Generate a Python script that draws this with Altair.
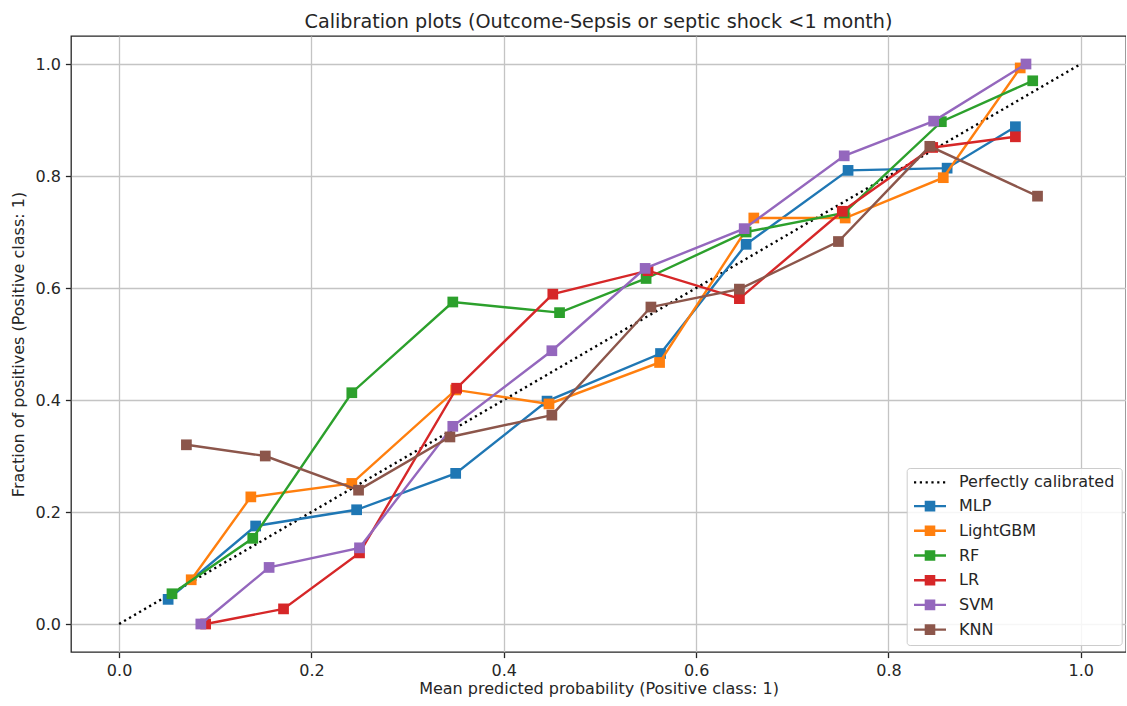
import altair as alt
import pandas as pd

# ---- data ----
names = ["Perfectly calibrated", "MLP", "LightGBM", "RF", "LR", "SVM", "KNN"]
colors = ["#000000", "#1f77b4", "#ff7f0e", "#2ca02c", "#d62728", "#9467bd", "#8c564b"]

x_perfect = [0.0, 1.0]
y_perfect = [0.0, 1.0]

x_mlp = [0.051, 0.142, 0.247, 0.350, 0.445, 0.563, 0.652, 0.758, 0.861, 0.932]
y_mlp = [0.044, 0.175, 0.204, 0.269, 0.398, 0.483, 0.678, 0.810, 0.814, 0.888]

x_lgbm = [0.075, 0.137, 0.242, 0.350, 0.447, 0.562, 0.660, 0.755, 0.857, 0.937]
y_lgbm = [0.079, 0.227, 0.251, 0.418, 0.393, 0.467, 0.725, 0.725, 0.797, 0.993]

x_rf = [0.055, 0.139, 0.242, 0.347, 0.458, 0.548, 0.652, 0.754, 0.855, 0.950]
y_rf = [0.054, 0.153, 0.413, 0.575, 0.556, 0.617, 0.700, 0.734, 0.897, 0.970]

x_lr = [0.090, 0.171, 0.250, 0.351, 0.451, 0.550, 0.645, 0.752, 0.846, 0.932]
y_lr = [0.000, 0.027, 0.127, 0.421, 0.589, 0.631, 0.581, 0.737, 0.851, 0.870]

x_svm = [0.085, 0.156, 0.250, 0.347, 0.450, 0.547, 0.650, 0.754, 0.847, 0.943]
y_svm = [0.000, 0.101, 0.136, 0.353, 0.488, 0.635, 0.706, 0.836, 0.898, 1.000]

x_knn = [0.070, 0.152, 0.249, 0.344, 0.450, 0.553, 0.645, 0.748, 0.843, 0.955]
y_knn = [0.320, 0.300, 0.239, 0.334, 0.373, 0.566, 0.598, 0.683, 0.853, 0.764]

tick_values = [0.0, 0.2, 0.4, 0.6, 0.8, 1.0]

series_xy = {
    "Perfectly calibrated": (x_perfect, y_perfect),
    "MLP": (x_mlp, y_mlp),
    "LightGBM": (x_lgbm, y_lgbm),
    "RF": (x_rf, y_rf),
    "LR": (x_lr, y_lr),
    "SVM": (x_svm, y_svm),
    "KNN": (x_knn, y_knn),
}

rows = []
for name, (xs, ys) in series_xy.items():
    for xv, yv in zip(xs, ys):
        rows.append({"series": name, "x": xv, "y": yv})
df = pd.DataFrame(rows)

FONT = "DejaVu Sans"
INK = "#262626"
DOTS = [2.2, 3.6]

x_enc = alt.X(
    "x:Q",
    scale=alt.Scale(domain=[-0.05, 1.047], nice=False, zero=False),
    axis=alt.Axis(
        values=tick_values, format=".1f", labelFlush=False,
        title="Mean predicted probability (Positive class: 1)",
        titleY=41, titleBaseline="alphabetic",
    ),
)
y_enc = alt.Y(
    "y:Q",
    scale=alt.Scale(domain=[-0.05, 1.05], nice=False, zero=False),
    axis=alt.Axis(
        values=tick_values, format=".1f", labelFlush=False,
        title="Fraction of positives (Positive class: 1)",
        titleX=-47.5, titleBaseline="alphabetic",
    ),
)

# legend glyphs: a short line, and a line with a (stroke-filled) square marker
LN = "M-3.2,0H3.2"
SQ = ("M-3.2,0H3.2"
      "M-0.82,-0.82H0.82V0.82H-0.82Z"
      "M-0.34,-0.34H0.34V0.34H-0.34Z"
      "M-0.06,-0.06H0.06V0.06H-0.06Z")
shapes = [LN] + [SQ] * 6
dashes = [DOTS] + [[1, 0]] * 6

legend = alt.Legend(
    title=None,
    orient="none",
    legendX=835.7,
    legendY=432,
    padding=6.4,
    fillColor="rgba(255,255,255,0.85)",
    strokeColor="#cccccc",
    cornerRadius=3,
    labelFont=FONT,
    labelFontSize=16,
    labelColor=INK,
    labelLimit=300,
    symbolSize=100,
    symbolOffset=8.9,
    labelOffset=21,
    rowPadding=6.7,
    symbolStrokeWidth=2.4,
    symbolOpacity=1,
)

legend_layer = (
    alt.Chart(df)
    .transform_filter("datum.x > 5")
    .mark_point(filled=False, opacity=1, strokeWidth=2.4)
    .encode(
        x=x_enc,
        y=y_enc,
        color=alt.Color("series:N", scale=alt.Scale(domain=names, range=colors), legend=legend),
        shape=alt.Shape("series:N", scale=alt.Scale(domain=names, range=shapes), legend=legend),
        strokeDash=alt.StrokeDash("series:N", scale=alt.Scale(domain=names, range=dashes), legend=legend),
    )
)

base = alt.Chart(df)

layers = [
    base.transform_filter(alt.datum.series == "Perfectly calibrated")
    .mark_line(strokeDash=DOTS, strokeWidth=2.4, strokeCap="butt", color="#000000")
    .encode(x=x_enc, y=y_enc)
]
for name, col in zip(names[1:], colors[1:]):
    sub = base.transform_filter(alt.datum.series == name)
    layers.append(sub.mark_line(strokeWidth=2.4, color=col).encode(x=x_enc, y=y_enc))
    layers.append(sub.mark_square(size=115, opacity=1, color=col).encode(x=x_enc, y=y_enc))
layers.append(legend_layer)

chart = (
    alt.layer(*layers)
    .properties(
        width=1055,
        height=616,
        autosize=alt.AutoSizeParams(type="none"),
        padding={"left": 71, "top": 36, "right": 0, "bottom": 48},
        title=alt.TitleParams(
            "Calibration plots (Outcome-Sepsis or septic shock <1 month)",
            font=FONT, fontSize=19.2, fontWeight="normal", color=INK,
            anchor="middle", frame="group", baseline="alphabetic", offset=-11.4,
        ),
    )
    .configure_view(stroke=INK, strokeWidth=1.3)
    .configure_axis(
        domain=False,
        grid=True,
        gridColor="#c4c4c4",
        gridWidth=1.3,
        tickColor=INK,
        tickWidth=1.3,
        tickSize=5.6,
        labelPadding=5,
        labelFont=FONT,
        labelFontSize=16,
        labelColor=INK,
        titleFont=FONT,
        titleFontSize=16,
        titleFontWeight="normal",
        titleColor=INK,
    )
)

chart.save("out.html", embed_options={"renderer": "svg", "actions": False})
